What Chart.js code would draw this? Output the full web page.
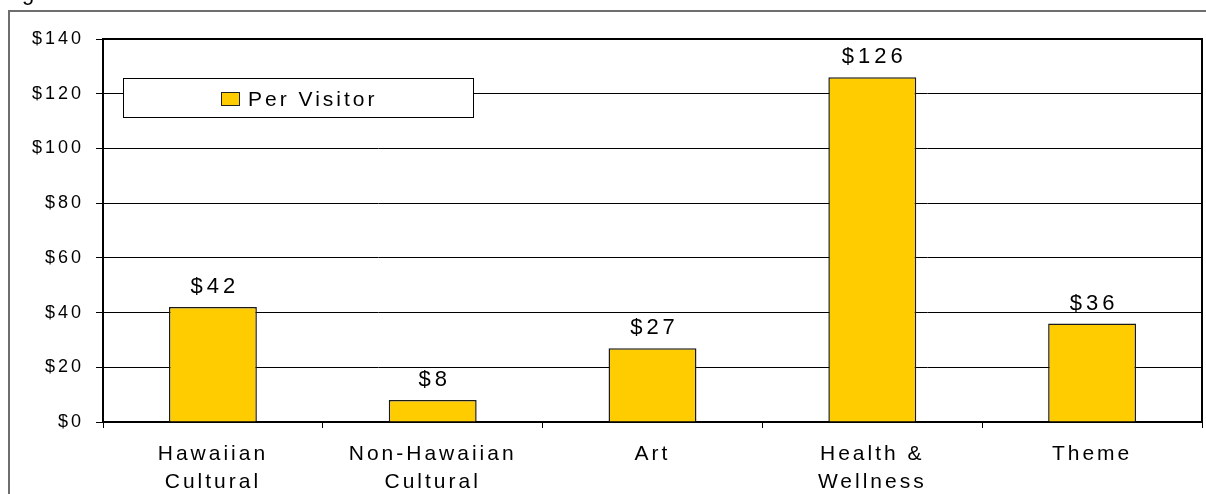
<!DOCTYPE html>
<html>
<head>
<meta charset="utf-8">
<script src="https://cdn.jsdelivr.net/npm/chart.js@4.4.1/dist/chart.umd.min.js"></script>
<style>
  html, body { margin: 0; padding: 0; background: #fff; }
  canvas { display: block; }
</style>
</head>
<body>
<canvas id="spendChart" width="1206" height="494"></canvas>
<script>
// spending per visitor, by attraction type
const categories = [['Hawaiian', 'Cultural'], ['Non-Hawaiian', 'Cultural'], ['Art'], ['Health &', 'Wellness'], ['Theme']]
const perVisitor = [42, 8, 27, 126, 36]
const yTicks = [0, 20, 40, 60, 80, 100, 120, 140]
const seriesName = 'Per Visitor'

const barColor = '#FFCC00'
const fontFamily = '"Liberation Sans", Arial, sans-serif'
const axisSpacing = '3px'

Chart.defaults.font.family = fontFamily
Chart.defaults.color = '#000'

// outer frame, plot border, legend box and value labels
const framePlugin = {
  id: 'frame',
  beforeUpdate(chart) {
    chart.ctx.letterSpacing = axisSpacing
  },
  beforeDraw(chart) {
    const ctx = chart.ctx
    ctx.letterSpacing = axisSpacing
    ctx.save()
    ctx.fillStyle = '#fff'
    ctx.fillRect(0, 0, chart.width, chart.height)
    ctx.strokeStyle = '#6e6e6e'
    ctx.lineWidth = 2
    ctx.strokeRect(9, 11, chart.width + 20, chart.height + 20)
    ctx.fillStyle = '#000'
    ctx.font = '22px ' + fontFamily
    ctx.textBaseline = 'alphabetic'
    ctx.letterSpacing = '0px'
    ctx.fillText('g', 22, 0)
    ctx.restore()
  },
  afterDatasetsDraw(chart) {
    const ctx = chart.ctx
    const a = chart.chartArea
    ctx.save()

    ctx.strokeStyle = '#000'
    ctx.lineWidth = 2
    ctx.beginPath()
    ctx.moveTo(a.left, a.top)
    ctx.lineTo(a.right, a.top)
    ctx.lineTo(a.right, a.bottom)
    ctx.stroke()

    // value above each bar
    const meta = chart.getDatasetMeta(0)
    ctx.fillStyle = '#000'
    ctx.font = '22px ' + fontFamily
    ctx.textAlign = 'center'
    ctx.textBaseline = 'alphabetic'
    ctx.letterSpacing = '4px'
    meta.data.forEach((bar, i) => {
      ctx.fillText('$' + perVisitor[i], bar.x + 2, bar.y - 14)
    })

    // legend
    const ds = chart.data.datasets[0]
    ctx.fillStyle = '#fff'
    ctx.fillRect(123.5, 78.5, 350, 39)
    ctx.lineWidth = 1
    ctx.strokeStyle = '#000'
    ctx.strokeRect(123.5, 78.5, 350, 39)
    ctx.fillStyle = ds.backgroundColor
    ctx.fillRect(221, 92, 19, 14)
    ctx.strokeStyle = '#222'
    ctx.strokeRect(221.5, 92.5, 18, 13)
    ctx.fillStyle = '#000'
    ctx.font = '21px ' + fontFamily
    ctx.textAlign = 'left'
    ctx.letterSpacing = '3px'
    ctx.fillText(ds.label, 248, 106)

    ctx.restore()
  }
}

new Chart(document.getElementById('spendChart'), {
  type: 'bar',
  data: {
    labels: categories,
    datasets: [{
      label: seriesName,
      data: perVisitor,
      backgroundColor: barColor,
      borderColor: '#1a1a1a',
      borderWidth: 1.5,
      barPercentage: 0.4,
      categoryPercentage: 1
    }]
  },
  options: {
    responsive: false,
    animation: false,
    devicePixelRatio: 1,
    layout: { padding: { left: 0, top: 39, right: 4, bottom: 0 } },
    plugins: {
      legend: { display: false },
      tooltip: { enabled: false }
    },
    scales: {
      x: {
        grid: { offset: true, drawOnChartArea: false, drawTicks: true, tickLength: 6, color: '#000', lineWidth: 1 },
        border: { color: '#000', width: 2 },
        ticks: { color: '#000', font: { size: 21, lineHeight: 1.3 }, padding: 13, maxRotation: 0, autoSkip: false },
        afterFit(s) { s.height = 72 }
      },
      y: {
        min: 0,
        max: 140,
        grid: { color: '#000', lineWidth: 1, tickLength: 7 },
        border: { color: '#000', width: 2 },
        ticks: { color: '#000', font: { size: 18 }, padding: 12, callback: v => '$' + v },
        afterBuildTicks(s) { s.ticks = yTicks.map(v => ({ value: v })) },
        afterFit(s) { s.width = 103 }
      }
    }
  },
  plugins: [framePlugin]
})
</script>
</body>
</html>
